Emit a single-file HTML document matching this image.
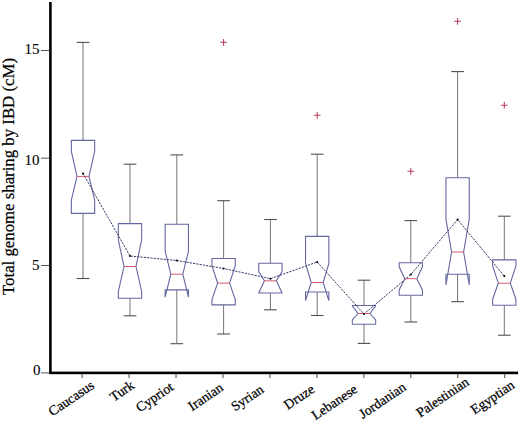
<!DOCTYPE html>
<html><head><meta charset="utf-8"><style>
html,body{margin:0;padding:0;background:#fff;}
svg{display:block;}
text{font-family:"Liberation Serif",serif;fill:#000;stroke:#000;stroke-width:0.25px;}
.t{font-size:15px;stroke-width:0.1px;}
.xl{font-size:13.7px;}
.yl{font-size:16.8px;}
</style></head><body>
<svg width="520" height="422" viewBox="0 0 520 422">
<rect x="49.1" y="2" width="2.6" height="372" fill="#000"/>
<rect x="49.1" y="371.6" width="469" height="2.6" fill="#000"/>
<line x1="41" y1="50.5" x2="49.5" y2="50.5" stroke="#555" stroke-width="1"/>
<text x="39.6" y="54.2" text-anchor="end" class="t">15</text>
<line x1="41" y1="158.2" x2="49.5" y2="158.2" stroke="#555" stroke-width="1"/>
<text x="39.6" y="164.7" text-anchor="end" class="t">10</text>
<line x1="41" y1="265.5" x2="49.5" y2="265.5" stroke="#555" stroke-width="1"/>
<text x="39.6" y="269.9" text-anchor="end" class="t">5</text>
<line x1="41" y1="372.9" x2="49.5" y2="372.9" stroke="#555" stroke-width="1"/>
<text x="40.4" y="374.7" text-anchor="end" class="t">0</text>
<line x1="82.1" y1="374" x2="82.1" y2="377.9" stroke="#555" stroke-width="1.1"/>
<line x1="129.06" y1="374" x2="129.06" y2="377.9" stroke="#555" stroke-width="1.1"/>
<line x1="176.02" y1="374" x2="176.02" y2="377.9" stroke="#555" stroke-width="1.1"/>
<line x1="222.98" y1="374" x2="222.98" y2="377.9" stroke="#555" stroke-width="1.1"/>
<line x1="269.94" y1="374" x2="269.94" y2="377.9" stroke="#555" stroke-width="1.1"/>
<line x1="316.9" y1="374" x2="316.9" y2="377.9" stroke="#555" stroke-width="1.1"/>
<line x1="363.86" y1="374" x2="363.86" y2="377.9" stroke="#555" stroke-width="1.1"/>
<line x1="410.82" y1="374" x2="410.82" y2="377.9" stroke="#555" stroke-width="1.1"/>
<line x1="457.78" y1="374" x2="457.78" y2="377.9" stroke="#555" stroke-width="1.1"/>
<line x1="504.74" y1="374" x2="504.74" y2="377.9" stroke="#555" stroke-width="1.1"/>
<line x1="83.0" y1="42.4" x2="83.0" y2="140.4" stroke="#757575" stroke-width="1"/>
<line x1="83.0" y1="213.4" x2="83.0" y2="278.5" stroke="#757575" stroke-width="1"/>
<line x1="76.675" y1="42.4" x2="89.325" y2="42.4" stroke="#505050" stroke-width="1.1"/>
<line x1="76.675" y1="278.5" x2="89.325" y2="278.5" stroke="#505050" stroke-width="1.1"/>
<line x1="130.0" y1="164.2" x2="130.0" y2="223.6" stroke="#757575" stroke-width="1"/>
<line x1="130.0" y1="298.2" x2="130.0" y2="315.8" stroke="#757575" stroke-width="1"/>
<line x1="123.675" y1="164.2" x2="136.325" y2="164.2" stroke="#505050" stroke-width="1.1"/>
<line x1="123.675" y1="315.8" x2="136.325" y2="315.8" stroke="#505050" stroke-width="1.1"/>
<line x1="176.8" y1="154.9" x2="176.8" y2="224.2" stroke="#757575" stroke-width="1"/>
<line x1="176.8" y1="289.9" x2="176.8" y2="343.7" stroke="#757575" stroke-width="1"/>
<line x1="170.47500000000002" y1="154.9" x2="183.125" y2="154.9" stroke="#505050" stroke-width="1.1"/>
<line x1="170.47500000000002" y1="343.7" x2="183.125" y2="343.7" stroke="#505050" stroke-width="1.1"/>
<line x1="223.6" y1="200.7" x2="223.6" y2="258.5" stroke="#757575" stroke-width="1"/>
<line x1="223.6" y1="304.9" x2="223.6" y2="334.0" stroke="#757575" stroke-width="1"/>
<line x1="217.275" y1="200.7" x2="229.92499999999998" y2="200.7" stroke="#505050" stroke-width="1.1"/>
<line x1="217.275" y1="334.0" x2="229.92499999999998" y2="334.0" stroke="#505050" stroke-width="1.1"/>
<line x1="270.4" y1="219.5" x2="270.4" y2="263.3" stroke="#757575" stroke-width="1"/>
<line x1="270.4" y1="293.0" x2="270.4" y2="309.8" stroke="#757575" stroke-width="1"/>
<line x1="264.075" y1="219.5" x2="276.72499999999997" y2="219.5" stroke="#505050" stroke-width="1.1"/>
<line x1="264.075" y1="309.8" x2="276.72499999999997" y2="309.8" stroke="#505050" stroke-width="1.1"/>
<line x1="317.2" y1="154.2" x2="317.2" y2="236.4" stroke="#757575" stroke-width="1"/>
<line x1="317.2" y1="292.0" x2="317.2" y2="315.5" stroke="#757575" stroke-width="1"/>
<line x1="310.875" y1="154.2" x2="323.525" y2="154.2" stroke="#505050" stroke-width="1.1"/>
<line x1="310.875" y1="315.5" x2="323.525" y2="315.5" stroke="#505050" stroke-width="1.1"/>
<line x1="364.0" y1="280.2" x2="364.0" y2="305.5" stroke="#757575" stroke-width="1"/>
<line x1="364.0" y1="324.3" x2="364.0" y2="343.4" stroke="#757575" stroke-width="1"/>
<line x1="357.675" y1="280.2" x2="370.325" y2="280.2" stroke="#505050" stroke-width="1.1"/>
<line x1="357.675" y1="343.4" x2="370.325" y2="343.4" stroke="#505050" stroke-width="1.1"/>
<line x1="410.8" y1="220.6" x2="410.8" y2="262.7" stroke="#757575" stroke-width="1"/>
<line x1="410.8" y1="295.3" x2="410.8" y2="322.0" stroke="#757575" stroke-width="1"/>
<line x1="404.475" y1="220.6" x2="417.125" y2="220.6" stroke="#505050" stroke-width="1.1"/>
<line x1="404.475" y1="322.0" x2="417.125" y2="322.0" stroke="#505050" stroke-width="1.1"/>
<line x1="457.6" y1="71.6" x2="457.6" y2="177.8" stroke="#757575" stroke-width="1"/>
<line x1="457.6" y1="274.2" x2="457.6" y2="301.7" stroke="#757575" stroke-width="1"/>
<line x1="451.27500000000003" y1="71.6" x2="463.925" y2="71.6" stroke="#505050" stroke-width="1.1"/>
<line x1="451.27500000000003" y1="301.7" x2="463.925" y2="301.7" stroke="#505050" stroke-width="1.1"/>
<line x1="504.3" y1="216.2" x2="504.3" y2="259.9" stroke="#757575" stroke-width="1"/>
<line x1="504.3" y1="305.3" x2="504.3" y2="335.2" stroke="#757575" stroke-width="1"/>
<line x1="497.975" y1="216.2" x2="510.625" y2="216.2" stroke="#505050" stroke-width="1.1"/>
<line x1="497.975" y1="335.2" x2="510.625" y2="335.2" stroke="#505050" stroke-width="1.1"/>
<polygon points="71.35,213.40 71.35,200.00 77.00,176.40 71.35,151.40 71.35,140.40 94.65,140.40 94.65,151.40 89.00,176.40 94.65,200.00 94.65,213.40" fill="none" stroke="#6468a0" stroke-width="1.1" stroke-linejoin="miter"/>
<line x1="77.0" y1="176.4" x2="89.0" y2="176.4" stroke="#d45a6c" stroke-width="1.0"/>
<polygon points="118.35,298.20 118.35,291.50 124.00,266.50 118.35,240.00 118.35,223.60 141.65,223.60 141.65,240.00 136.00,266.50 141.65,291.50 141.65,298.20" fill="none" stroke="#6468a0" stroke-width="1.1" stroke-linejoin="miter"/>
<line x1="124.0" y1="266.5" x2="136.0" y2="266.5" stroke="#d45a6c" stroke-width="1.0"/>
<polygon points="165.15,289.90 165.15,297.20 170.80,274.20 165.15,251.30 165.15,224.20 188.45,224.20 188.45,251.30 182.80,274.20 188.45,297.20 188.45,289.90" fill="none" stroke="#6468a0" stroke-width="1.1" stroke-linejoin="miter"/>
<line x1="170.8" y1="274.2" x2="182.8" y2="274.2" stroke="#d45a6c" stroke-width="1.0"/>
<polygon points="211.95,304.90 211.95,299.50 217.60,283.10 211.95,266.00 211.95,258.50 235.25,258.50 235.25,266.00 229.60,283.10 235.25,299.50 235.25,304.90" fill="none" stroke="#6468a0" stroke-width="1.1" stroke-linejoin="miter"/>
<line x1="217.6" y1="283.1" x2="229.6" y2="283.1" stroke="#d45a6c" stroke-width="1.0"/>
<polygon points="258.75,293.00 258.75,292.90 264.40,280.80 258.75,271.60 258.75,263.30 282.05,263.30 282.05,271.60 276.40,280.80 282.05,292.90 282.05,293.00" fill="none" stroke="#6468a0" stroke-width="1.1" stroke-linejoin="miter"/>
<line x1="264.4" y1="280.8" x2="276.4" y2="280.8" stroke="#d45a6c" stroke-width="1.0"/>
<polygon points="305.55,292.00 305.55,300.60 311.20,282.50 305.55,263.40 305.55,236.40 328.85,236.40 328.85,263.40 323.20,282.50 328.85,300.60 328.85,292.00" fill="none" stroke="#6468a0" stroke-width="1.1" stroke-linejoin="miter"/>
<line x1="311.2" y1="282.5" x2="323.2" y2="282.5" stroke="#d45a6c" stroke-width="1.0"/>
<polygon points="352.35,324.30 352.35,320.00 358.00,313.50 352.35,305.70 352.35,305.50 375.65,305.50 375.65,305.70 370.00,313.50 375.65,320.00 375.65,324.30" fill="none" stroke="#6468a0" stroke-width="1.1" stroke-linejoin="miter"/>
<line x1="358.0" y1="313.5" x2="370.0" y2="313.5" stroke="#d45a6c" stroke-width="1.0"/>
<polygon points="399.15,295.30 399.15,290.00 404.80,278.70 399.15,266.80 399.15,262.70 422.45,262.70 422.45,266.80 416.80,278.70 422.45,290.00 422.45,295.30" fill="none" stroke="#6468a0" stroke-width="1.1" stroke-linejoin="miter"/>
<line x1="404.8" y1="278.7" x2="416.8" y2="278.7" stroke="#d45a6c" stroke-width="1.0"/>
<polygon points="445.95,274.20 445.95,285.00 451.60,252.00 445.95,219.10 445.95,177.80 469.25,177.80 469.25,219.10 463.60,252.00 469.25,285.00 469.25,274.20" fill="none" stroke="#6468a0" stroke-width="1.1" stroke-linejoin="miter"/>
<line x1="451.6" y1="252.0" x2="463.6" y2="252.0" stroke="#d45a6c" stroke-width="1.0"/>
<polygon points="492.65,305.30 492.65,299.20 498.30,283.20 492.65,265.80 492.65,259.90 515.95,259.90 515.95,265.80 510.30,283.20 515.95,299.20 515.95,305.30" fill="none" stroke="#6468a0" stroke-width="1.1" stroke-linejoin="miter"/>
<line x1="498.3" y1="283.2" x2="510.3" y2="283.2" stroke="#d45a6c" stroke-width="1.0"/>
<path d="M220.2,42.3H227.0M223.6,38.9V45.699999999999996" stroke="#b8405e" stroke-width="1.1"/>
<path d="M313.8,115.3H320.59999999999997M317.2,111.89999999999999V118.7" stroke="#b8405e" stroke-width="1.1"/>
<path d="M407.40000000000003,171.3H414.2M410.8,167.9V174.70000000000002" stroke="#b8405e" stroke-width="1.1"/>
<path d="M454.20000000000005,21.3H461.0M457.6,17.900000000000002V24.7" stroke="#b8405e" stroke-width="1.1"/>
<path d="M500.90000000000003,105.2H507.7M504.3,101.8V108.60000000000001" stroke="#b8405e" stroke-width="1.1"/>
<polyline points="83.00,173.50 130.00,256.00 176.80,260.50 223.60,268.50 270.40,278.70 317.20,262.00 364.00,314.00 410.80,274.50 457.60,219.60 504.30,276.10" fill="none" stroke="#3a3a6a" stroke-width="1" stroke-dasharray="2.2,1.1"/>
<circle cx="83.0" cy="173.5" r="1.05" fill="#000"/>
<circle cx="130.0" cy="256.0" r="1.05" fill="#000"/>
<circle cx="176.8" cy="260.5" r="1.05" fill="#000"/>
<circle cx="223.6" cy="268.5" r="1.05" fill="#000"/>
<circle cx="270.4" cy="278.7" r="1.05" fill="#000"/>
<circle cx="317.2" cy="262.0" r="1.05" fill="#000"/>
<circle cx="364.0" cy="314.0" r="1.05" fill="#000"/>
<circle cx="410.8" cy="274.5" r="1.05" fill="#000"/>
<circle cx="457.6" cy="219.6" r="1.05" fill="#000"/>
<circle cx="504.3" cy="276.1" r="1.05" fill="#000"/>
<text x="95.2" y="387.55" text-anchor="end" class="xl" transform="rotate(-34 95.2 387.55)">Caucasus</text>
<text x="135.3" y="387.3" text-anchor="end" class="xl" transform="rotate(-34 135.3 387.3)">Turk</text>
<text x="174.5" y="389.15" text-anchor="end" class="xl" transform="rotate(-34 174.5 389.15)">Cypriot</text>
<text x="224.25" y="389.7" text-anchor="end" class="xl" transform="rotate(-34 224.25 389.7)">Iranian</text>
<text x="264.7" y="391.6" text-anchor="end" class="xl" transform="rotate(-34 264.7 391.6)">Syrian</text>
<text x="315.5" y="391.4" text-anchor="end" class="xl" transform="rotate(-34 315.5 391.4)">Druze</text>
<text x="358.4" y="391.45" text-anchor="end" class="xl" transform="rotate(-34 358.4 391.45)">Lebanese</text>
<text x="407.0" y="389.2" text-anchor="end" class="xl" transform="rotate(-34 407.0 389.2)">Jordanian</text>
<text x="470.05" y="384.1" text-anchor="end" class="xl" transform="rotate(-34 470.05 384.1)">Palestinian</text>
<text x="515.5" y="387.15" text-anchor="end" class="xl" transform="rotate(-34 515.5 387.15)">Egyptian</text>
<text x="13.8" y="295" class="yl" transform="rotate(-90 13.8 295)">Total genome sharing by IBD (cM)</text>
</svg>
</body></html>
